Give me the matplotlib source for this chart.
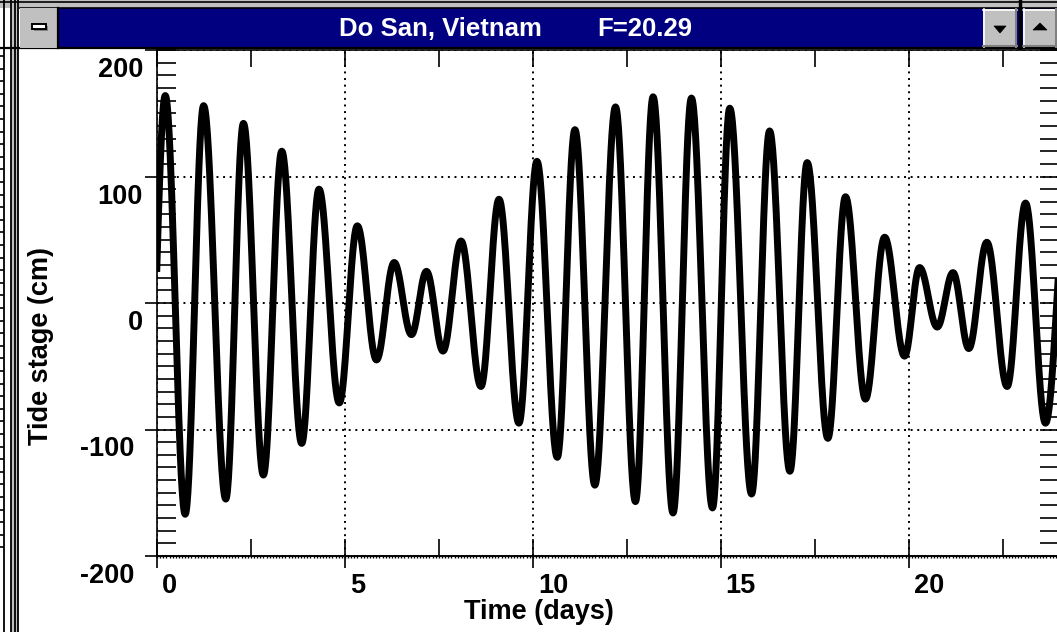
import numpy as np
import matplotlib.pyplot as plt
from matplotlib.patches import Rectangle, Polygon
from matplotlib.transforms import Affine2D, ScaledTranslation
from matplotlib.ticker import MultipleLocator, FixedLocator

# high and low waters: time (days), stage (cm)
hw_lw_days = [-0.28, 0.22, 0.75, 1.24, 1.83, 2.30, 2.83, 3.32, 3.85, 4.31,
              4.85, 5.33, 5.84, 6.31, 6.77, 7.17, 7.61, 8.09, 8.62, 9.10,
              9.63, 10.11, 10.65, 11.12, 11.65, 12.20, 12.73, 13.20, 13.73,
              14.22, 14.78, 15.24, 15.82, 16.30, 16.84, 17.30, 17.85, 18.32,
              18.85, 19.36, 19.89, 20.29, 20.76, 21.18, 21.60, 22.08, 22.62,
              23.11, 23.64, 24.25]
hw_lw_cm = [-160, 164, -167, 156, -155, 142, -136, 120, -111, 90,
            -79, 61, -45, 32, -25, 25, -38, 49, -66, 82,
            -95, 112, -122, 137, -144, 155, -157, 163, -166,
            162, -162, 154, -151, 136, -133, 111, -107, 84,
            -76, 52, -42, 28, -19, 24, -36, 48, -66,
            79, -95, 100]

title_place = "Do San, Vietnam"
title_f = "F=20.29"
x_ticks = [0, 5, 10, 15, 20]
y_ticks = [-200, -100, 0, 100, 200]

W, H = 1057, 632
NAVY = "#000080"
GREY = "#c0c0c0"
DARK = "#808080"

plt.rcParams["font.family"] = ["Liberation Sans", "DejaVu Sans"]


def tide_curve(days, cm, n=40):
    # join each high/low water with a half cosine
    t, h = [], []
    for i in range(len(days) - 1):
        s = np.linspace(0, 1, n, endpoint=False)
        t.append(days[i] + (days[i + 1] - days[i]) * s)
        h.append(cm[i] + (cm[i + 1] - cm[i]) * (1 - np.cos(np.pi * s)) / 2)
    t.append([days[-1]])
    h.append([cm[-1]])
    return np.concatenate(t), np.concatenate(h)


fig = plt.figure(figsize=(W / 100, H / 100), dpi=100)
fig.patch.set_facecolor("white")
# pixel coordinates of the screenshot, y going down
PX = Affine2D().scale(1 / W, -1 / H).translate(0, 1) + fig.transFigure

ax_left, ax_right, ax_top, ax_bot = 157, 1059, 50, 556
ax = fig.add_axes([ax_left / W, 1 - ax_bot / H,
                   (ax_right - ax_left) / W, (ax_bot - ax_top) / H])

t, h = tide_curve(hw_lw_days, hw_lw_cm)
ax.plot(t, h, color="black", lw=5.0, solid_joinstyle="round", zorder=3)

ax.set_xlim(0, 24)
ax.set_ylim(-200, 200)

for sp in ax.spines.values():
    sp.set_linewidth(1.2)

# x ticks
ax.xaxis.set_major_locator(FixedLocator(x_ticks))
ax.xaxis.set_minor_locator(MultipleLocator(2.5))
ax.xaxis.remove_overlapping_locs = False
ax.tick_params(axis="x", which="major", direction="out", length=8.6,
               width=1.2, pad=3.6, labelsize=19.5, top=False)
ax.tick_params(axis="x", which="minor", direction="in", length=12.5,
               width=1.2, top=True, bottom=True)
ax.set_xticklabels([str(v) for v in x_ticks], fontweight="bold")
for lab in ax.get_xticklabels():
    lab.set_horizontalalignment("left")
    lab.set_transform(lab.get_transform() +
                      ScaledTranslation(0.05, 0, fig.dpi_scale_trans))

# small ticks every two hours along the time axis
sec = ax.secondary_xaxis("bottom")
sec.set_xticks(np.arange(0, 24, 1 / 12))
sec.tick_params(direction="out", length=1.6, width=1.0, labelbottom=False)
sec.spines["bottom"].set_linewidth(1.2)

# y ticks
ax.yaxis.set_major_locator(FixedLocator(y_ticks))
ax.yaxis.set_minor_locator(MultipleLocator(10))
ax.yaxis.remove_overlapping_locs = False
ax.tick_params(axis="y", which="major", direction="out", length=8.6,
               width=1.2, pad=1.5, labelsize=19.5, right=False)
ax.tick_params(axis="y", which="minor", direction="in", length=13.7,
               width=1.2, left=True, right=True)
ax.set_yticklabels([str(v) for v in y_ticks], fontweight="bold")
for lab, v in zip(ax.get_yticklabels(), y_ticks):
    dx = -0.09 if v < 0 else 0.0
    lab.set_transform(lab.get_transform() +
                      ScaledTranslation(dx, -0.17, fig.dpi_scale_trans))

ax.grid(True, which="major", color="black", lw=1.4,
        linestyle=(0, (1, 2.4)))

fig.text(539, 612, "Time (days)", transform=PX, ha="center", va="center",
         fontsize=19.5, fontweight="bold")
fig.text(41, 346, "Tide stage (cm)", transform=PX, ha="center", va="center",
         rotation=90, fontsize=19.5, fontweight="bold")


def px_rect(x, y, w, hgt, **kw):
    fig.add_artist(Rectangle((x, y), w, hgt, transform=PX, **kw))


def px_line(xs, ys, **kw):
    fig.add_artist(plt.Line2D(xs, ys, transform=PX, **kw))


# window frame on the left
px_rect(11, 0, 7, H, fc=GREY, ec="none", zorder=5)
for x in (4, 11, 14.5, 18):
    px_line([x, x], [0, H], color="black", lw=1.3, zorder=6)
for y in np.arange(56, 556, 12.6):
    px_line([0, 3], [y, y], color="black", lw=1.2, zorder=6)

# title bar
px_rect(0, 0, W, 8, fc=GREY, ec="none", zorder=5)
px_line([0, W], [2, 2], color="black", lw=1.2, zorder=6)
px_rect(20, 8, W - 20, 40, fc=NAVY, ec="none", zorder=5)
px_line([20, W], [8, 8], color="black", lw=1.2, zorder=6)
px_line([0, W], [48, 48], color="black", lw=1.6, zorder=6)

# system menu button
px_rect(20, 8, 38, 40, fc=GREY, ec="none", zorder=6)
px_line([58, 58], [8, 48], color="black", lw=1.6, zorder=7)
px_rect(34, 26, 14, 5, fc=DARK, ec="none", zorder=7)
px_rect(32, 24, 14, 5, fc="white", ec="black", lw=1.4, zorder=8)

# minimise / maximise buttons
for bx, up in ((983, False), (1023, True)):
    px_rect(bx, 9, 34, 38, fc=GREY, ec="none", zorder=6)
    px_line([bx, bx + 34], [9.5, 9.5], color="white", lw=1.2, zorder=7)
    px_line([bx + 0.5, bx + 0.5], [9, 47], color="white", lw=1.2, zorder=7)
    px_line([bx, bx + 34], [46, 46], color=DARK, lw=1.5, zorder=7)
    px_line([bx + 33, bx + 33], [9, 47], color=DARK, lw=1.5, zorder=7)
    cx = bx + 17
    if up:
        tri = [(cx - 7, 30), (cx + 7, 30), (cx, 23)]
    else:
        tri = [(cx - 6, 26), (cx + 6, 26), (cx, 33)]
    fig.add_artist(Polygon(tri, closed=True, transform=PX, fc="black",
                           ec="black", lw=0.5, zorder=8))
px_line([1020, 1020], [0, 48], color="black", lw=2.5, zorder=8)

fig.text(339, 29, title_place, transform=PX, ha="left", va="center",
         fontsize=18.5, fontweight="bold", color="white", zorder=9)
fig.text(597, 29, title_f, transform=PX, ha="left", va="center",
         fontsize=18.5, fontweight="bold", color="white", zorder=9)

fig.savefig("out.png", dpi=100, facecolor="white")
